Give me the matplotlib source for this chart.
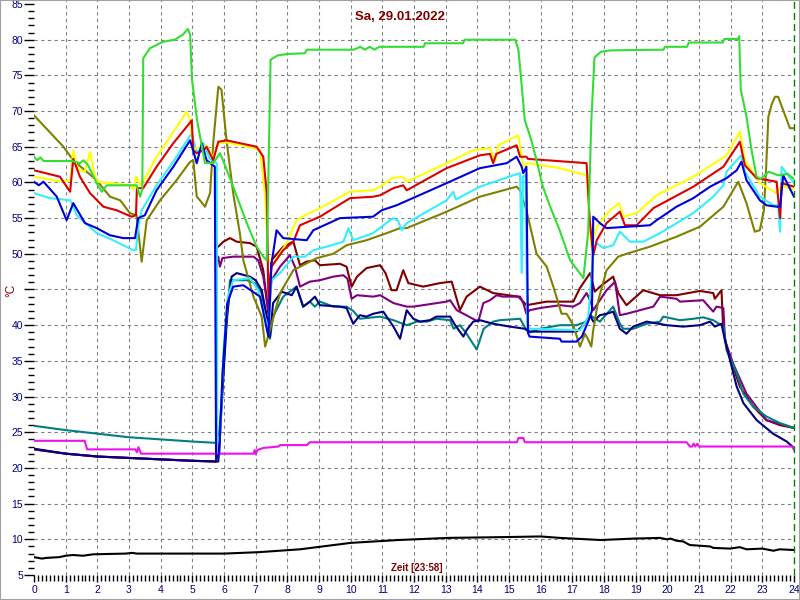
import matplotlib
matplotlib.use('Agg')
import matplotlib.pyplot as plt
from matplotlib.ticker import MultipleLocator
from matplotlib.patches import Rectangle

plt.rcParams['font.family'] = ['Liberation Sans', 'DejaVu Sans']

# hours / temperature values
green_h = [0, 0.1, 0.2, 0.3, 1.2, 1.45, 1.56, 1.71, 1.98, 2.14, 2.3, 3.24, 3.35, 3.42, 3.45, 3.66, 4.07, 4.45, 4.7, 4.86, 4.93, 4.99, 5.15, 5.4, 5.66, 5.87, 5.97, 6.29, 6.72, 7.03, 7.24, 7.35, 7.42, 7.47, 7.7, 8.0, 8.55, 8.62, 10.1, 10.3, 10.45, 10.6, 10.75, 10.9, 12.3, 12.35, 13.55, 13.6, 15.2, 15.3, 15.5, 15.7, 15.87, 16.07, 16.3, 16.6, 16.93, 17.35, 17.5, 17.6, 17.7, 17.9, 18.2, 19.88, 19.92, 20.62, 20.68, 21.75, 21.8, 22.23, 22.27, 22.29, 22.32, 22.5, 22.66, 22.82, 22.95, 23.2, 23.5, 23.8, 24.0]
green_v = [63.6, 63.1, 63.5, 63.0, 63.0, 62.7, 63.1, 62.4, 59.9, 58.7, 59.6, 59.6, 58.0, 59.0, 77.4, 78.8, 79.7, 80.0, 80.7, 81.5, 80.7, 74.4, 68.7, 62.7, 62.7, 64.1, 63.1, 59.4, 54.3, 51.0, 49.6, 49.1, 65.0, 77.2, 77.8, 78.0, 78.1, 78.6, 78.6, 79.0, 78.6, 79.0, 78.6, 79.0, 79.0, 79.5, 79.5, 80.0, 80.0, 78.5, 68.7, 66.0, 63.1, 59.4, 56.6, 53.3, 49.1, 46.6, 53.0, 68.7, 77.5, 78.3, 78.5, 78.6, 79.0, 79.0, 79.6, 79.6, 80.1, 80.1, 80.5, 77.2, 73.0, 69.2, 64.5, 60.8, 60.5, 61.5, 61.0, 61.2, 60.5]

yellow_h = [0, 0.92, 1.15, 1.24, 1.35, 1.45, 1.6, 1.77, 1.93, 2.0, 3.03, 3.15, 3.22, 3.35, 3.5, 3.87, 4.3, 4.82, 4.93, 5.03, 5.35, 5.45, 5.66, 5.82, 6.1, 6.8, 7.14, 7.3, 7.4, 7.61, 7.98, 8.29, 8.56, 9.03, 9.98, 10.7, 10.93, 11.3, 11.66, 11.77, 13.03, 13.87, 14.4, 14.56, 14.66, 15.29, 15.35, 15.45, 15.6, 16.6, 17.45, 17.6, 17.77, 18.19, 18.48, 18.61, 19.03, 19.66, 20.82, 21.56, 21.87, 22.29, 22.45, 22.92, 23.45, 23.6, 24.0]
yellow_v = [60.8, 60.1, 60.3, 64.5, 62.2, 61.7, 61.5, 64.3, 60.8, 60.1, 59.6, 59.0, 60.8, 59.6, 60.5, 63.6, 66.4, 69.9, 68.7, 64.8, 64.8, 65.2, 63.4, 65.5, 65.6, 65.0, 64.5, 58.0, 49.0, 49.1, 51.5, 54.7, 55.4, 56.4, 58.7, 58.9, 59.4, 60.6, 60.8, 60.1, 62.7, 64.5, 64.8, 62.9, 65.2, 66.6, 65.2, 62.2, 62.7, 62.0, 61.0, 51.0, 53.8, 56.1, 57.1, 55.2, 55.7, 58.2, 60.8, 62.9, 63.8, 67.1, 63.1, 59.9, 58.5, 59.5, 59.0]

red_h = [0, 0.82, 1.14, 1.24, 1.45, 1.77, 2.19, 2.61, 3.08, 3.22, 3.25, 3.45, 3.87, 4.4, 4.82, 4.98, 5.03, 5.14, 5.35, 5.45, 5.66, 5.82, 6.08, 6.82, 7.03, 7.24, 7.35, 7.4, 7.5, 7.87, 8.19, 8.4, 9.03, 9.98, 10.71, 10.93, 11.35, 11.66, 11.77, 13.03, 14.08, 14.4, 14.5, 14.6, 15.24, 15.35, 15.55, 15.6, 17.45, 17.55, 17.66, 17.77, 18.08, 18.5, 18.66, 19.03, 19.56, 20.82, 21.77, 22.29, 22.45, 22.82, 23.45, 23.56, 23.61, 24.0]
red_v = [61.7, 60.8, 58.7, 63.3, 60.8, 58.5, 56.6, 56.1, 55.2, 55.4, 59.2, 59.2, 62.2, 65.5, 67.8, 68.7, 64.5, 64.1, 64.5, 65.0, 63.1, 65.7, 65.9, 65.2, 65.0, 63.6, 58.5, 44.0, 48.2, 50.5, 51.7, 54.0, 55.2, 57.8, 58.0, 58.2, 59.2, 59.6, 58.9, 62.0, 63.8, 64.0, 62.7, 64.0, 65.2, 63.6, 63.6, 63.3, 62.7, 54.7, 49.8, 51.9, 54.3, 55.9, 54.0, 54.0, 56.4, 59.4, 62.2, 65.7, 62.4, 60.6, 60.1, 55.0, 59.9, 59.4]

blue_h = [0, 0.15, 0.3, 0.72, 1.03, 1.24, 1.61, 1.98, 2.4, 2.82, 3.19, 3.29, 3.5, 3.87, 4.4, 4.93, 5.14, 5.3, 5.45, 5.71, 5.75, 5.85, 5.95, 6.1, 6.29, 6.61, 7.14, 7.4, 7.5, 7.66, 7.87, 8.61, 8.82, 9.66, 10.71, 10.98, 11.45, 13.03, 14.08, 14.93, 15.24, 15.4, 15.45, 15.55, 15.6, 15.65, 16.61, 16.66, 17.13, 17.3, 17.5, 17.62, 17.66, 17.87, 18.08, 19.45, 19.66, 20.29, 20.82, 21.35, 21.87, 22.19, 22.34, 22.5, 22.92, 23.13, 23.45, 23.56, 23.66, 24.0]
blue_v = [60.1, 59.6, 60.1, 58.0, 54.7, 57.1, 54.3, 53.6, 52.6, 52.2, 52.2, 55.0, 55.4, 58.9, 62.2, 65.9, 62.7, 65.5, 63.1, 62.2, 21.3, 22.0, 33.0, 43.0, 45.4, 45.6, 44.0, 38.4, 48.6, 53.3, 52.2, 51.9, 53.3, 55.0, 55.2, 56.1, 56.8, 59.9, 62.0, 62.7, 63.6, 62.2, 61.3, 62.2, 38.9, 38.4, 38.1, 37.7, 37.7, 38.4, 40.5, 42.0, 55.2, 54.3, 53.6, 54.0, 54.7, 56.6, 57.8, 59.4, 60.6, 61.7, 62.9, 60.3, 57.5, 56.8, 56.6, 56.6, 61.0, 58.0]

cyan_h = [0, 0.5, 1.14, 1.24, 1.35, 1.98, 2.5, 3.14, 3.22, 3.29, 3.4, 3.87, 4.4, 4.98, 5.14, 5.35, 5.55, 5.77, 5.79, 5.88, 5.98, 6.12, 6.29, 6.82, 7.08, 7.4, 7.5, 7.77, 8.19, 8.56, 8.82, 9.24, 9.77, 9.93, 10.08, 10.71, 11.24, 11.35, 11.5, 11.61, 11.77, 13.03, 13.24, 13.32, 14.08, 15.13, 15.35, 15.4, 15.44, 15.52, 15.58, 15.66, 17.24, 17.5, 17.66, 17.77, 17.98, 18.29, 18.5, 18.82, 19.24, 19.77, 20.82, 21.45, 21.77, 21.87, 22.0, 22.34, 22.45, 22.92, 23.35, 23.5, 23.56, 23.61, 24.0]
cyan_v = [58.5, 57.8, 57.5, 56.6, 55.4, 52.9, 51.9, 50.5, 50.5, 53.8, 56.1, 59.6, 62.9, 66.9, 64.1, 65.5, 63.3, 62.7, 23.5, 24.5, 36.0, 44.0, 46.3, 46.6, 44.9, 39.3, 46.3, 47.3, 49.6, 49.6, 50.5, 51.0, 51.7, 53.6, 51.9, 52.9, 54.7, 55.0, 54.6, 53.3, 54.3, 57.5, 58.7, 57.6, 59.4, 61.0, 61.3, 47.3, 60.8, 61.0, 39.8, 39.5, 39.3, 41.0, 50.0, 51.5, 50.8, 51.2, 53.1, 51.7, 51.7, 52.9, 55.7, 58.0, 59.6, 61.5, 62.2, 63.8, 61.5, 58.0, 56.8, 56.8, 53.1, 62.2, 59.9]

olive_h = [0, 0.93, 1.24, 1.98, 2.4, 2.72, 3.03, 3.24, 3.4, 3.56, 3.98, 4.5, 4.93, 5.03, 5.14, 5.24, 5.4, 5.56, 5.66, 5.82, 5.92, 6.08, 6.29, 6.5, 6.61, 6.93, 7.19, 7.3, 7.45, 7.77, 8.19, 8.93, 9.45, 9.87, 10.5, 11.14, 11.56, 11.77, 13.03, 14.08, 15.24, 15.35, 15.55, 15.87, 16.19, 16.4, 16.66, 16.82, 17.03, 17.24, 17.4, 17.5, 17.6, 17.66, 17.82, 18.08, 18.45, 18.71, 19.45, 20.29, 21.03, 21.77, 22.24, 22.5, 22.76, 22.92, 23.05, 23.12, 23.19, 23.3, 23.4, 23.5, 23.87, 24.0]
olive_v = [69.4, 65.0, 63.1, 60.3, 58.0, 57.5, 55.7, 55.4, 48.9, 54.7, 57.5, 60.3, 62.9, 63.1, 58.0, 57.5, 56.6, 58.5, 65.5, 73.4, 73.0, 65.9, 58.5, 52.9, 49.1, 44.0, 41.2, 37.0, 39.3, 44.5, 47.7, 49.4, 50.0, 51.2, 51.9, 52.9, 53.6, 53.6, 55.9, 58.0, 59.4, 58.9, 56.1, 50.0, 48.2, 45.4, 41.6, 41.6, 40.0, 37.0, 38.8, 38.0, 37.0, 39.3, 43.5, 47.7, 49.6, 50.0, 51.0, 52.4, 53.8, 56.6, 60.1, 57.1, 53.1, 53.3, 56.1, 62.0, 69.2, 71.0, 72.0, 72.0, 67.6, 67.6]

maroon_h = [0, 1, 2, 3, 4, 5, 5.75, 5.77, 5.82, 5.98, 6.19, 6.4, 6.82, 7.03, 7.24, 7.4, 7.5, 7.87, 8.19, 8.4, 8.6, 8.87, 9.03, 9.66, 9.87, 10.03, 10.2, 10.5, 10.93, 11.1, 11.29, 11.45, 11.66, 11.82, 12.29, 12.82, 13.19, 13.45, 13.66, 14.08, 14.5, 15.29, 15.45, 15.55, 16.19, 17.03, 17.24, 17.56, 17.71, 17.9, 18.29, 18.45, 18.71, 19.24, 19.77, 20.29, 21.03, 21.45, 21.5, 21.71, 21.76, 21.87, 22.08, 22.29, 22.71, 23.13, 23.55, 24.0]
maroon_v = [22.6, 22.0, 21.6, 21.4, 21.2, 21.0, 20.9, 51.0, 51.0, 51.7, 52.2, 51.7, 51.5, 51.0, 47.7, 41.6, 49.1, 51.0, 51.7, 48.4, 48.9, 49.1, 48.4, 48.6, 48.2, 45.4, 46.8, 48.0, 48.4, 47.3, 44.9, 44.9, 47.7, 45.9, 45.4, 45.9, 46.1, 42.1, 44.0, 45.4, 44.5, 44.0, 43.3, 42.8, 43.3, 43.3, 45.2, 47.3, 44.7, 45.5, 46.8, 44.5, 42.8, 44.9, 44.2, 44.2, 44.8, 44.5, 43.7, 44.9, 39.8, 37.0, 34.2, 31.4, 28.6, 26.7, 26.0, 25.6]

purple_h = [0, 1, 2, 3, 4, 5, 5.75, 5.77, 5.82, 5.87, 5.95, 6.29, 6.93, 7.08, 7.24, 7.4, 7.5, 7.77, 8.08, 8.24, 8.4, 8.71, 9.03, 9.45, 9.77, 9.9, 10.03, 10.2, 10.71, 10.93, 11.35, 11.77, 11.98, 13.03, 13.14, 13.35, 14.03, 14.19, 14.4, 14.61, 14.8, 15.35, 15.45, 15.55, 15.65, 15.98, 16.61, 17.03, 17.24, 17.45, 17.56, 17.66, 18.08, 18.35, 18.5, 18.71, 19.56, 19.77, 20.29, 20.4, 21.13, 21.45, 21.55, 21.77, 21.82, 22.08, 22.5, 23.13, 24.0]
purple_v = [22.6, 22.0, 21.6, 21.4, 21.2, 21.0, 20.9, 49.6, 49.6, 48.2, 49.4, 49.6, 49.6, 49.1, 46.8, 42.1, 46.3, 48.2, 49.8, 48.2, 45.4, 46.1, 46.3, 46.8, 47.0, 46.5, 43.7, 44.2, 44.0, 44.2, 43.1, 42.6, 42.6, 43.3, 43.5, 42.1, 40.5, 43.1, 43.5, 44.2, 44.0, 44.0, 43.1, 41.6, 42.1, 42.4, 42.8, 42.6, 43.1, 44.5, 43.5, 42.1, 44.9, 46.1, 41.4, 41.6, 42.6, 44.0, 43.7, 43.3, 43.5, 41.9, 42.6, 42.4, 37.9, 34.6, 30.4, 26.7, 25.6]

navy_h = [0, 1, 2, 3, 4, 5, 5.82, 5.87, 6.08, 6.24, 6.4, 6.82, 7.0, 7.19, 7.4, 7.45, 7.55, 7.82, 8.14, 8.29, 8.5, 8.71, 8.87, 9.03, 9.66, 9.87, 10.08, 10.29, 10.5, 10.71, 11.03, 11.35, 11.56, 11.77, 11.98, 12.19, 12.5, 12.71, 13.14, 13.3, 13.56, 13.66, 13.87, 14.08, 14.5, 15.03, 15.5, 15.66, 17.13, 17.35, 17.56, 17.66, 17.87, 18.08, 18.29, 18.5, 18.71, 18.92, 19.35, 19.98, 20.5, 21.03, 21.35, 21.5, 21.71, 21.82, 21.98, 22.19, 22.4, 22.82, 23.34, 23.77, 24.0]
navy_v = [22.7, 22.0, 21.6, 21.4, 21.2, 21.0, 20.9, 24.4, 40.7, 46.8, 47.3, 46.8, 46.3, 44.9, 40.2, 38.4, 43.1, 44.7, 44.2, 45.4, 42.6, 43.3, 44.0, 42.8, 42.6, 42.4, 40.2, 41.4, 41.2, 41.6, 41.9, 39.8, 38.1, 42.1, 40.9, 40.5, 40.7, 41.2, 41.2, 40.0, 38.4, 39.3, 40.5, 40.7, 40.2, 39.8, 39.5, 39.1, 39.1, 40.0, 41.4, 40.5, 41.4, 41.6, 41.9, 39.5, 38.8, 39.8, 40.5, 40.0, 39.8, 40.0, 40.5, 39.8, 40.2, 37.9, 35.1, 31.4, 29.1, 26.7, 24.8, 23.7, 22.8]

teal_h = [0, 1, 2, 3, 4, 5, 5.8, 5.87, 6.1, 6.19, 6.72, 6.97, 7.19, 7.45, 7.55, 7.87, 8.29, 8.5, 8.71, 8.87, 9.03, 9.45, 9.87, 10.08, 10.29, 10.93, 11.35, 11.77, 12.1, 12.4, 12.71, 13.14, 13.25, 13.45, 13.66, 13.98, 14.2, 14.5, 14.71, 15.35, 15.55, 15.66, 15.98, 16.61, 17.13, 17.45, 17.56, 17.87, 18.29, 18.5, 18.61, 18.92, 19.35, 19.77, 19.87, 20.4, 20.82, 21.13, 21.45, 21.77, 21.87, 22.19, 22.4, 22.71, 23.13, 23.55, 24.0]
teal_v = [25.9, 25.3, 24.8, 24.3, 24.0, 23.7, 23.5, 26.0, 41.0, 46.3, 46.3, 45.9, 44.5, 38.1, 41.2, 44.0, 45.4, 42.6, 43.3, 42.6, 43.3, 42.6, 42.6, 42.0, 40.9, 41.2, 40.7, 40.0, 40.5, 40.5, 40.9, 40.7, 39.5, 40.0, 38.8, 36.6, 39.5, 40.5, 40.7, 40.9, 39.3, 39.0, 39.5, 40.0, 40.0, 40.5, 41.4, 40.5, 42.6, 40.2, 39.5, 39.5, 40.2, 40.5, 41.2, 40.7, 40.9, 41.1, 40.7, 39.8, 36.5, 33.3, 30.4, 28.6, 27.2, 26.3, 25.6]

magenta_h = [0, 1.6, 1.68, 3.2, 3.25, 3.3, 3.38, 6.93, 6.97, 7.0, 7.05, 7.24, 7.72, 7.77, 8.61, 8.71, 15.25, 15.3, 15.45, 15.5, 20.61, 20.71, 20.78, 20.83, 20.88, 20.95, 21.0, 21.05, 23.95, 24.0]
magenta_v = [23.8, 23.8, 22.6, 22.6, 22.2, 22.9, 22.0, 22.0, 22.5, 21.9, 22.5, 22.8, 23.0, 23.2, 23.2, 23.6, 23.6, 24.2, 24.2, 23.6, 23.6, 23.0, 23.0, 23.4, 23.0, 23.4, 23.0, 23.0, 23.0, 22.5]

black_h = [0, 0.25, 0.4, 0.8, 1.0, 1.24, 1.55, 1.87, 2.9, 3.1, 3.25, 5.3, 6.0, 7.1, 8.4, 10.0, 11.5, 13.1, 14.7, 16.0, 16.6, 17.9, 18.92, 19.77, 19.98, 20.1, 20.29, 20.5, 20.71, 21.03, 21.35, 21.45, 21.98, 22.29, 22.5, 23.0, 23.35, 23.55, 24.0]
black_v = [7.5, 7.3, 7.4, 7.5, 7.7, 7.8, 7.7, 7.9, 8.0, 8.1, 8.0, 8.0, 8.0, 8.2, 8.6, 9.5, 9.9, 10.2, 10.3, 10.4, 10.2, 9.9, 10.1, 10.2, 10.0, 10.1, 9.8, 9.7, 9.2, 9.1, 9.0, 8.8, 8.7, 8.9, 8.6, 8.7, 8.4, 8.6, 8.5]

y_ticks = list(range(5, 90, 5))
# the unit label sits where the 45 label would be
y_labels = ['' if t == 45 else str(t) for t in y_ticks]

# drawing order bottom -> top
series = [
    (maroon_h, maroon_v, '#800000'),
    (purple_h, purple_v, '#800080'),
    (teal_h, teal_v, '#008080'),
    (navy_h, navy_v, '#000080'),
    (magenta_h, magenta_v, '#ee11ee'),
    (black_h, black_v, '#000000'),
    (olive_h, olive_v, '#808000'),
    (cyan_h, cyan_v, '#33eeff'),
    (yellow_h, yellow_v, '#ffff00'),
    (red_h, red_v, '#dd0000'),
    (blue_h, blue_v, '#0000dd'),
    (green_h, green_v, '#33dd33'),
]

fig = plt.figure(figsize=(8, 6), dpi=100)
ax = fig.add_axes([34 / 800, 25 / 600, 760 / 800, 575 / 600])

# dashed grid, only inner lines
for y in range(10, 85, 5):
    ax.axhline(y, color='#808080', lw=0.8, ls=(0, (3, 3)), zorder=1)
for x in range(1, 24):
    ax.axvline(x, color='#808080', lw=0.8, ls=(0, (3, 3)), zorder=1)

for h, v, c in series:
    ax.plot(h, v, color=c, lw=1.5, zorder=2)

# marker for current time
ax.axvline(24, color='#008000', lw=1, ls=(0, (5, 3)), clip_on=False, zorder=3)

ax.set_xlim(0, 24)
ax.set_ylim(5, 85.56)
for s in ax.spines.values():
    s.set_visible(False)

ax.xaxis.set_major_locator(MultipleLocator(1))
ax.xaxis.set_minor_locator(MultipleLocator(0.125))
ax.set_yticks(y_ticks)
ax.set_yticklabels(y_labels)
ax.yaxis.set_minor_locator(MultipleLocator(1))
ax.tick_params(which='both', direction='out', color='black', width=1)
ax.tick_params(which='major', labelcolor='#000080', labelsize=7.5)
ax.tick_params(axis='y', which='major', length=7, pad=1)
ax.tick_params(axis='y', which='minor', length=4)
ax.tick_params(axis='x', which='major', length=5, pad=2)
ax.tick_params(axis='x', which='minor', length=4)

fig.text(0.5, 1 - 17.5 / 600, 'Sa, 29.01.2022', ha='center', va='center',
         color='#800000', fontsize=9.5, fontweight='bold')
fig.text(417 / 800, 1 - 568 / 600, 'Zeit [23:58]', ha='center', va='center',
         color='#800000', fontsize=7, fontweight='bold')
fig.text(11 / 800, 1 - 290 / 600, '°C', ha='center', va='center', rotation=90,
         color='#800000', fontsize=8.5)

fig.patches.append(Rectangle((0, 0), 1, 1, transform=fig.transFigure, fill=False,
                             edgecolor='#a0a0a0', lw=1.5))

plt.savefig('out.png', dpi=100)
